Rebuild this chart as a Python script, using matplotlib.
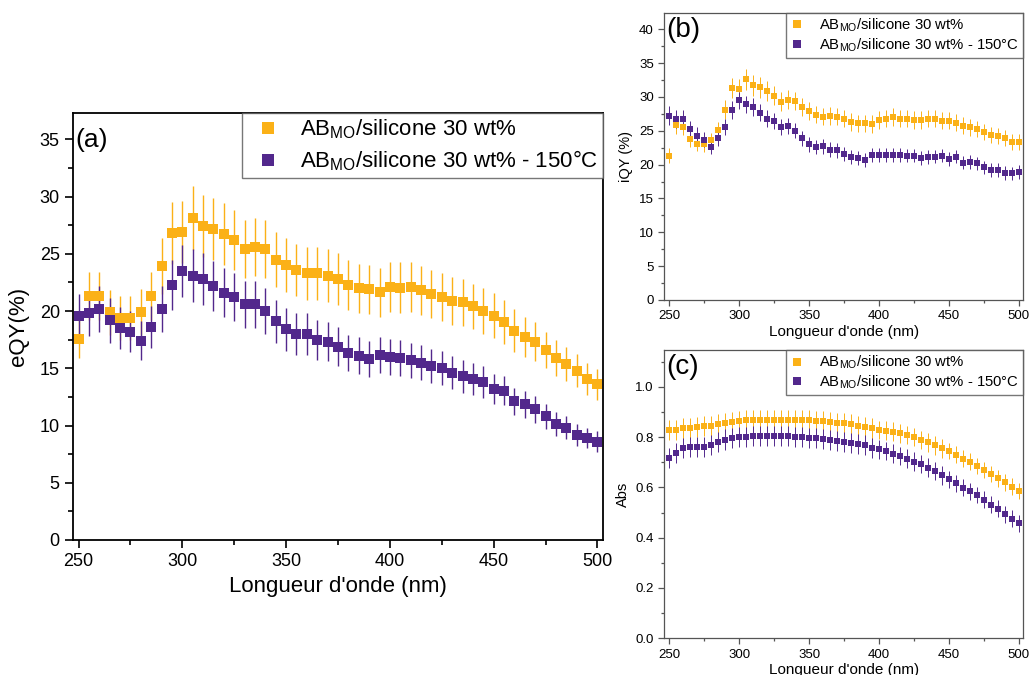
import numpy as np
import matplotlib.pyplot as plt
from matplotlib.lines import Line2D
from matplotlib.ticker import MultipleLocator, FormatStrFormatter

plt.rcParams['font.family'] = ['Liberation Sans', 'DejaVu Sans']
plt.rcParams['mathtext.fontset'] = 'custom'
plt.rcParams['mathtext.rm'] = 'Liberation Sans'

ORANGE = '#FBB117'
PURPLE = '#52288C'

wavelength = np.arange(250, 505, 5)

labels = [r'AB$_{\mathregular{MO}}$/silicone 30 wt%',
          r'AB$_{\mathregular{MO}}$/silicone 30 wt% - 150°C']

# (a) eQY
eqy_1 = [17.6, 21.3, 21.3, 19.9, 19.4, 19.4, 19.9, 21.3, 23.9, 26.8, 26.9, 28.1, 27.4,
         27.2, 26.7, 26.2, 25.4, 25.6, 25.4, 24.5, 24.0, 23.6, 23.3, 23.3, 23.1, 22.8,
         22.3, 22.0, 21.9, 21.65, 22.1, 22.05, 22.1, 21.8, 21.45, 21.2, 20.9, 20.75, 20.4,
         20.0, 19.6, 19.05, 18.3, 17.75, 17.3, 16.6, 15.9, 15.4, 14.8, 14.1, 13.6]
eqy_1_err = [1.7, 2.1, 2.1, 1.95, 1.9, 1.9, 2.0, 2.1, 2.45, 2.7, 2.7, 2.8, 2.7,
             2.7, 2.7, 2.6, 2.55, 2.5, 2.55, 2.4, 2.35, 2.3, 2.3, 2.3, 2.3, 2.3,
             2.2, 2.15, 2.15, 2.15, 2.2, 2.2, 2.2, 2.15, 2.1, 2.1, 2.1, 2.05, 2.0,
             2.0, 1.95, 1.9, 1.85, 1.75, 1.7, 1.6, 1.6, 1.5, 1.45, 1.4, 1.35]
eqy_2 = [19.6, 19.8, 20.2, 19.2, 18.5, 18.2, 17.4, 18.6, 20.2, 22.3, 23.5, 23.1, 22.8,
         22.2, 21.6, 21.2, 20.6, 20.6, 20.0, 19.1, 18.4, 18.0, 18.0, 17.5, 17.3, 16.9,
         16.35, 16.1, 15.8, 16.15, 16.0, 15.9, 15.7, 15.5, 15.2, 15.0, 14.6, 14.3, 14.1,
         13.8, 13.2, 13.05, 12.1, 11.85, 11.4, 10.8, 10.1, 9.8, 9.2, 8.9, 8.6]
eqy_2_err = [1.9, 1.95, 2.0, 1.95, 1.85, 1.8, 1.7, 1.85, 2.0, 2.2, 2.3, 2.3, 2.25,
             2.2, 2.15, 2.1, 2.05, 2.05, 2.0, 1.9, 1.85, 1.8, 1.8, 1.75, 1.7, 1.7,
             1.6, 1.6, 1.6, 1.6, 1.6, 1.55, 1.55, 1.55, 1.5, 1.5, 1.45, 1.45, 1.4,
             1.4, 1.3, 1.3, 1.2, 1.2, 1.15, 1.1, 1.05, 1.0, 0.95, 0.9, 0.9]

# (b) iQY
iqy_1 = [21.3, 25.8, 25.6, 23.8, 23.1, 23.0, 23.6, 25.1, 28.1, 31.3, 31.2, 32.6, 31.7,
         31.4, 30.9, 30.2, 29.3, 29.6, 29.4, 28.5, 27.9, 27.4, 27.1, 27.2, 27.1,
         26.8, 26.3, 26.1, 26.1, 26.0, 26.6, 26.8, 27.0, 26.8, 26.8, 26.6, 26.6, 26.8,
         26.8, 26.5, 26.5, 26.2, 25.75, 25.5, 25.3, 24.8, 24.4, 24.2, 23.9, 23.4, 23.4]
iqy_1_err = [1.1, 1.3, 1.2, 1.2, 1.1, 1.1, 1.1, 1.2, 1.4, 1.5, 1.5, 1.6, 1.5,
             1.5, 1.5, 1.4, 1.4, 1.4, 1.4, 1.35, 1.3, 1.3, 1.3, 1.3, 1.3,
             1.3, 1.3, 1.3, 1.3, 1.3, 1.3, 1.3, 1.3, 1.3, 1.3, 1.3, 1.3, 1.3,
             1.3, 1.25, 1.25, 1.25, 1.25, 1.2, 1.2, 1.2, 1.2, 1.2, 1.2, 1.2, 1.2]
iqy_2 = [27.2, 26.7, 26.7, 25.2, 24.3, 23.7, 22.6, 23.9, 25.6, 28.1, 29.5, 28.9, 28.5,
         27.7, 26.8, 26.4, 25.6, 25.7, 25.0, 23.9, 23.0, 22.6, 22.7, 22.2, 22.1,
         21.6, 21.1, 21.0, 20.7, 21.4, 21.4, 21.4, 21.4, 21.4, 21.35, 21.35, 21.0, 21.1,
         21.2, 21.35, 20.8, 21.2, 20.3, 20.4, 20.2, 19.6, 19.2, 19.2, 18.8, 18.7, 18.95]
iqy_2_err = [1.4, 1.3, 1.3, 1.2, 1.2, 1.1, 1.1, 1.2, 1.2, 1.3, 1.3, 1.3, 1.3,
             1.2, 1.2, 1.2, 1.2, 1.2, 1.1, 1.1, 1.1, 1.1, 1.1, 1.1, 1.1,
             1.0, 1.0, 1.0, 1.0, 1.0, 1.0, 1.0, 1.0, 1.0, 1.0, 1.0, 1.0, 1.0,
             1.0, 1.0, 1.0, 1.0, 1.0, 1.0, 1.0, 1.0, 1.0, 1.0, 1.0, 1.0, 1.0]

# (c) Abs
abs_1 = [0.828, 0.828, 0.834, 0.835, 0.840, 0.844, 0.844, 0.851, 0.856, 0.860, 0.863,
         0.866, 0.867, 0.867, 0.867, 0.868, 0.868, 0.868, 0.867, 0.867, 0.866, 0.863,
         0.863, 0.859, 0.856,
         0.854, 0.850, 0.842, 0.838, 0.834, 0.828, 0.826, 0.822, 0.815, 0.808, 0.800,
         0.789, 0.779, 0.767, 0.755, 0.745, 0.730, 0.714, 0.702, 0.685, 0.669, 0.653,
         0.636, 0.620, 0.603, 0.586]
abs_2 = [0.718, 0.738, 0.755, 0.762, 0.762, 0.762, 0.770, 0.781, 0.790, 0.796, 0.800,
         0.801, 0.803, 0.803, 0.803, 0.803, 0.803, 0.803, 0.801, 0.800, 0.796, 0.795,
         0.791, 0.789, 0.786,
         0.782, 0.778, 0.773, 0.767, 0.757, 0.751, 0.745, 0.734, 0.725, 0.714, 0.702,
         0.693, 0.678, 0.665, 0.648, 0.632, 0.616, 0.599, 0.584, 0.569, 0.551, 0.531,
         0.515, 0.493, 0.476, 0.457]
abs_1_err = [0.04] * 30 + [0.037] * 10 + [0.033] * 11
abs_2_err = [0.04] * 30 + [0.037] * 10 + [0.033] * 11


def draw_panel(ax, y1, e1, y2, e2, ms, cap, lw, ew):
    ax.errorbar(wavelength, y1, yerr=e1, fmt='s', color=ORANGE, ms=ms, mew=0,
                ecolor=ORANGE, elinewidth=ew, capsize=cap, capthick=ew)
    ax.errorbar(wavelength, y2, yerr=e2, fmt='s', color=PURPLE, ms=ms, mew=0,
                ecolor=PURPLE, elinewidth=ew, capsize=cap, capthick=ew)
    ax.tick_params(which='both', direction='out', top=False, right=False)
    ax.xaxis.set_major_locator(MultipleLocator(50))
    ax.xaxis.set_minor_locator(MultipleLocator(25))
    for s in ax.spines.values():
        s.set_linewidth(lw)


def add_legend(ax, ms, **kw):
    handles = [Line2D([], [], marker='s', ls='none', color=c, ms=ms, mew=0)
               for c in (ORANGE, PURPLE)]
    leg = ax.legend(handles, labels, loc='upper right', frameon=True, fancybox=False,
                    borderaxespad=0, **kw)
    leg.get_frame().set_edgecolor('#555555')
    leg.get_frame().set_linewidth(1.0)
    return leg


fig = plt.figure(figsize=(10.3, 6.75), dpi=100)

# (a)
ax1 = fig.add_axes([73 / 1030, 1 - 540 / 675, 530 / 1030, 427 / 675])
draw_panel(ax1, eqy_1, eqy_1_err, eqy_2, eqy_2_err, 7, 3, 1.3, 1.0)
ax1.set_xlim(247.3, 502.7)
ax1.set_ylim(0, 37.3)
ax1.yaxis.set_major_locator(MultipleLocator(5))
ax1.yaxis.set_minor_locator(MultipleLocator(2.5))
ax1.tick_params(which='major', length=6, width=1.2, labelsize=13)
ax1.tick_params(which='minor', length=3.5, width=1.2)
ax1.set_xlabel("Longueur d'onde (nm)", fontsize=16)
ax1.set_ylabel('eQY(%)', fontsize=16, labelpad=8)
ax1.text(0.005, 0.965, '(a)', transform=ax1.transAxes, fontsize=19, va='top')
add_legend(ax1, 8.5, fontsize=16, handletextpad=0.45, borderpad=0.2,
           labelspacing=0.35, handlelength=2.0)

# (b) and (c)
left_bc, width_bc = 664.3 / 1030, 358.7 / 1030
panels = [
    (iqy_1, iqy_1_err, iqy_2, iqy_2_err, 'iQY (%)', '(b)', 42.45, 12.7, 300),
    (abs_1, abs_1_err, abs_2, abs_2_err, 'Abs', '(c)', 1.146, 350, 638.3),
]
for y1, e1, y2, e2, ylab, tag, ytop, top_px, bot_px in panels:
    ax = fig.add_axes([left_bc, 1 - bot_px / 675, width_bc, (bot_px - top_px) / 675])
    draw_panel(ax, y1, e1, y2, e2, 4.2, 2.2, 0.9, 0.7)
    for s in ax.spines.values():
        s.set_color('#555555')
    ax.set_xlim(246.5, 503)
    ax.set_ylim(0, ytop)
    if tag == '(c)':
        ax.yaxis.set_major_locator(MultipleLocator(0.2))
        ax.yaxis.set_minor_locator(MultipleLocator(0.1))
        ax.yaxis.set_major_formatter(FormatStrFormatter('%.1f'))
    else:
        ax.yaxis.set_major_locator(MultipleLocator(5))
        ax.yaxis.set_minor_locator(MultipleLocator(2.5))
    ax.tick_params(which='major', length=4, width=0.9, labelsize=9.5, color='#555555')
    ax.tick_params(which='minor', length=2.2, width=0.9, color='#555555')
    ax.set_xlabel("Longueur d'onde (nm)", fontsize=11, labelpad=2)
    ax.set_ylabel(ylab, fontsize=10.5)
    ax.text(0.005, 0.985, tag, transform=ax.transAxes, fontsize=20, va='top')
    add_legend(ax, 5.5, fontsize=10.7, handletextpad=1.0, borderpad=0.25,
               labelspacing=0.15, handlelength=1.0)

fig.savefig('out.png', dpi=100)
